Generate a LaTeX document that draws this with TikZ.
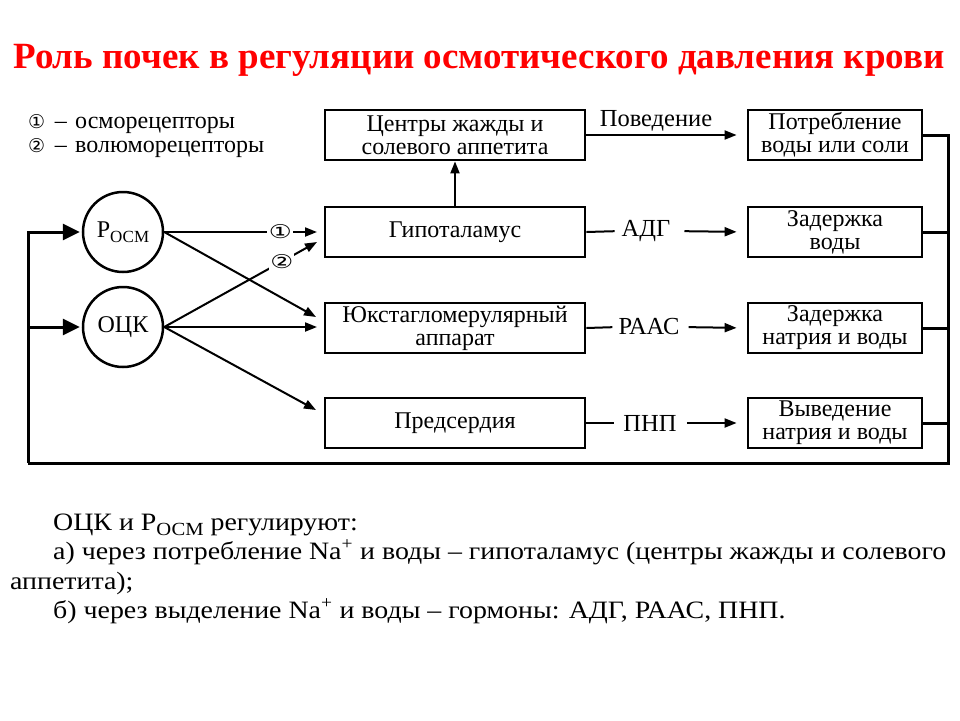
\documentclass[tikz,border=0pt]{standalone}
\usepackage{graphicx}
\usepackage{fontspec}
\setmainfont{Liberation Serif}
\newfontfamily\symfont{DejaVu Sans}
\usetikzlibrary{arrows.meta}
\newcommand{\cnum}[1]{{\symfont\fontsize{19}{19}\selectfont #1}}
\newcommand{\dnum}[1]{\scalebox{1.35}[1]{\symfont\fontsize{19}{19}\selectfont #1}}
\newcommand{\osm}[1]{\raisebox{-0.22em}{\fontsize{#1}{#1}\selectfont ОСМ}}
\begin{document}
\begin{tikzpicture}[x=1pt,y=-1pt,
  txt/.style={font=\fontsize{24}{24}\selectfont},
  box/.style={draw, line width=2.8pt, inner sep=0pt, align=center, font=\fontsize{24}{23}\selectfont},
  cbox/.style={box, minimum width=260pt, minimum height=50pt},
  rbox/.style={box, minimum width=174pt, minimum height=50pt},
  circ/.style={draw, circle, line width=2.5pt, minimum size=80pt, inner sep=0pt, font=\fontsize{24}{24}\selectfont},
  arr/.style={line width=2pt, -{Triangle[length=12pt,width=9pt]}},
  ln/.style={line width=2pt},
  fb/.style={line width=3pt},
  fbarr/.style={line width=3pt, -{Triangle[length=17pt,width=16pt]}},
  lab/.style={font=\fontsize{24.5}{24}\selectfont, inner sep=0pt},
  btxt/.style={anchor=base west, inner sep=0pt, font=\fontsize{25}{26}\selectfont}
]
\useasboundingbox (0,0) rectangle (960,720);
\fill[white] (0,0) rectangle (960,720);

% title
\node[anchor=base, inner sep=0pt, text=red, font=\fontsize{37}{38}\bfseries] (title) at (479,68) {Роль почек в регуляции осмотического давления крови};

% legend
\node[anchor=west, inner sep=0pt, txt] (leg1) at (28,124) {\cnum{①}\hspace{0.15em} – \hspace{0.1em}осморецепторы};
\node[anchor=west, inner sep=0pt, txt] (leg2) at (28,148) {\cnum{②}\hspace{0.15em} – \hspace{0.1em}волюморецепторы};

% center boxes
\node[cbox] (cen) at (455,135) {Центры жажды и\\солевого аппетита};
\node[cbox] (hyp) at (455,232) {Гипоталамус};
\node[cbox] (jga) at (455,328) {Юкстагломерулярный\\аппарат};
\node[cbox] (pred) at (455,423) {Предсердия};

% right boxes
\node[rbox] (potr) at (835,135) {Потребление\\воды или соли};
\node[rbox] (zv) at (835,232) {Задержка\\воды};
\node[rbox] (znv) at (835,328) {Задержка\\натрия и воды};
\node[rbox] (vnv) at (835,423) {Выведение\\натрия и воды};

% circles
\node[circ] (rosm) at (123,232) {Р\osm{17}};
\node[circ] (ock) at (123,327) {ОЦК};

% free ends of inputs
\coordinate (t1) at (317,232);
\coordinate (t2) at (317,242);
\coordinate (t3) at (316,317);
\coordinate (t4) at (317,327);
\coordinate (t5) at (316,410);

\draw[arr] (rosm.east) -- node[pos=0.76, fill=white, inner sep=1.5pt] {\dnum{①}} (t1);
\draw[arr] (rosm.east) -- (t3);
\draw[arr] (ock.east) -- node[pos=0.77, fill=white, inner sep=1pt] {\dnum{②}} (t2);
\draw[arr] (ock.east) -- (t4);
\draw[arr] (ock.east) -- (t5);

% hypothalamus to centers
\draw[arr] (hyp.north) -- (cen.south);

% labels between columns
\node[lab, anchor=base] (beh) at (656,126) {Поведение};
\node[lab] (adg) at (646,231) {АДГ};
\node[lab] (raas) at (649,327) {РААС};
\node[lab] (pnp) at (650,423) {ПНП};

\draw[arr, shorten >=10pt] (cen.east) -- (potr.west);
\draw[ln, shorten >=7pt] (hyp.east) -- (adg.west);
\draw[arr, shorten <=14pt, shorten >=10pt] (adg.east) -- (zv.west);
\draw[ln, shorten >=6pt] (jga.east) -- (raas.west);
\draw[arr, shorten <=9pt, shorten >=10pt] (raas.east) -- (znv.west);
\draw[ln, shorten >=9pt] (pred.east) -- (pnp.west);
\draw[arr, shorten <=10pt, shorten >=10pt] (pnp.east) -- (vnv.west);

% feedback
\coordinate (rb) at (948,463);
\coordinate (lb) at (28,463);
\draw[fb] (potr.east) -| (rb) -- (lb);
\draw[fb] (zv.east) -- (zv.east -| rb);
\draw[fb] (znv.east) -- (znv.east -| rb);
\draw[fb] (vnv.east) -- (vnv.east -| rb);
\draw[fbarr, shorten >=2pt] (lb) |- (rosm.west);
\draw[fbarr, shorten >=2pt] (ock.west -| lb) -- (ock.west);

% bottom text
\node[btxt] (b1) at (53,530) {\scalebox{1.115}[1]{ОЦК и Р\osm{18.5} регулируют:}};
\node[btxt] (b2) at (53,559) {\scalebox{1.115}[1]{а) через потребление Na\textsuperscript{+} и воды – гипоталамус (центры жажды и солевого}};
\node[btxt] (b3) at (10,589) {\scalebox{1.115}[1]{аппетита);}};
\node[btxt] (b4) at (53,618) {\scalebox{1.115}[1]{б) через выделение Na\textsuperscript{+} и воды – гормоны: АДГ, РААС, ПНП.}};
\end{tikzpicture}
\end{document}
